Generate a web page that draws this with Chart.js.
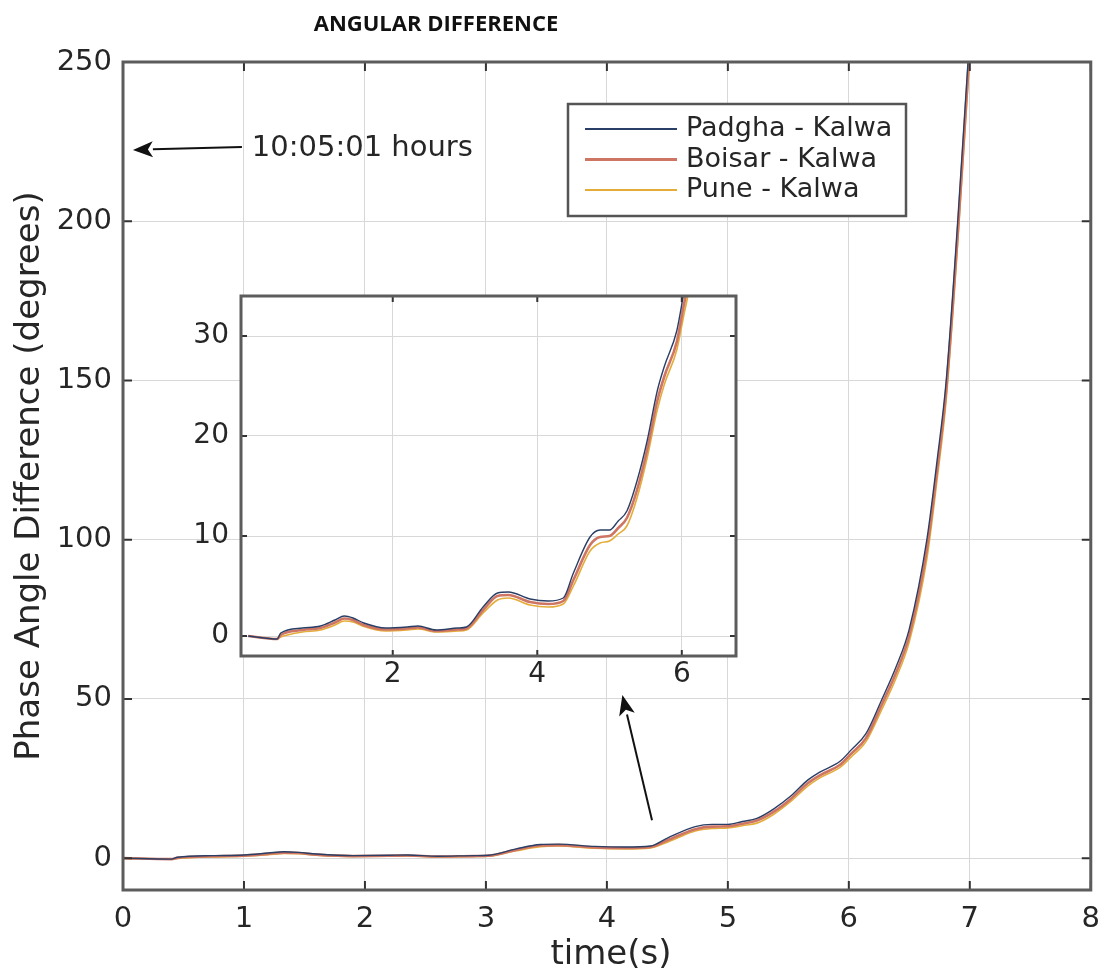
<!DOCTYPE html>
<html>
<head>
<meta charset="utf-8">
<title>Angular Difference</title>
<script src="https://cdn.jsdelivr.net/npm/chart.js@4.4.1/dist/chart.umd.min.js"></script>
<style>
  body { margin: 0; background: #fff; }
  #wrap { position: relative; width: 1112px; height: 972px; }
  #main { position: absolute; left: 0; top: 0; }
  #inset { position: absolute; left: 160px; top: 280px; }
  #title {
    position: absolute; left: 0; top: 7px; width: 872px;
    text-align: center; font: bold 22px "Open Sans", sans-serif; color: #111;
  }
</style>
</head>
<body>
<div id="wrap">
  <canvas id="main" width="1112" height="972"></canvas>
  <canvas id="inset" width="590" height="420"></canvas>
  <div id="title">ANGULAR DIFFERENCE</div>
</div>
<script>
// time axis (s) shared by the three series
const timeSec = [0, 0.40, 0.45, 0.75, 1.00, 1.20, 1.33, 1.45, 1.60, 1.90,
  2.20, 2.35, 2.60, 2.90, 3.02, 3.25, 3.45, 3.60, 3.90, 4.15,
  4.36, 4.50, 4.73, 4.87, 5.00, 5.12, 5.24, 5.38, 5.52, 5.66,
  5.76, 5.93, 6.02, 6.14, 6.27, 6.39, 6.50, 6.645, 6.73, 6.805,
  6.90, 6.985, 7.03];

// phase angle difference (degrees)
const padghaKalwa = [0, -0.3, 0.3, 0.8, 1.0, 1.6, 2.0, 1.8, 1.3, 0.8,
  0.9, 1.0, 0.6, 0.8, 0.9, 2.9, 4.3, 4.4, 3.7, 3.5,
  3.8, 6.3, 9.9, 10.6, 10.6, 11.5, 12.5, 15.5, 19.5, 24.5,
  27.0, 30.5, 34.0, 39.0, 49.6, 60.0, 72.0, 100, 125, 150,
  200, 250, 275];
const boisarKalwa = [0, -0.3, 0.1, 0.6, 0.8, 1.35, 1.75, 1.6, 1.1, 0.65,
  0.75, 0.85, 0.5, 0.65, 0.75, 2.6, 4.0, 4.1, 3.4, 3.2,
  3.5, 5.6, 9.1, 9.9, 10.0, 10.8, 11.8, 14.6, 18.6, 23.5,
  26.0, 29.4, 32.8, 37.6, 48.0, 58.2, 70.0, 97, 122, 147,
  196, 246, 271];
const puneKalwa = [0, -0.3, -0.1, 0.4, 0.6, 1.1, 1.5, 1.4, 0.95, 0.5,
  0.6, 0.7, 0.4, 0.5, 0.6, 2.3, 3.6, 3.8, 3.1, 2.9,
  3.2, 5.0, 8.5, 9.3, 9.5, 10.2, 11.0, 13.8, 17.8, 22.6,
  25.2, 28.6, 31.8, 36.5, 46.5, 56.5, 68.0, 94, 119, 144,
  193, 243, 268];

const seriesNames = ['Padgha - Kalwa', 'Boisar - Kalwa', 'Pune - Kalwa'];

const mainXTicks = [0, 1, 2, 3, 4, 5, 6, 7, 8];
const mainYTicks = [0, 50, 100, 150, 200, 250];
const insetXTicks = [2, 4, 6];
const insetYTicks = [0, 10, 20, 30];

// annotation (data units of the main axes)
const noteText = '10:05:01 hours';
const notePos = [1.065, 223];
const arrows = [
  { from: [0.983, 223.3], to: [0.082, 222.4] },
  { from: [4.373, 11.9], to: [4.128, 51.2] }
];

const colors = ['#2a3f66', '#cf7563', '#e4ad3a'];
const widths = [1.4, 2.6, 1.6];
const fontFamily = '"DejaVu Sans", DejaVuSans, "Bitstream Vera Sans", Verdana, sans-serif';

Chart.defaults.font.family = fontFamily;
Chart.defaults.color = '#262626';

function makeDatasets() {
  return [padghaKalwa, boisarKalwa, puneKalwa].map((vals, i) => ({
    label: seriesNames[i],
    data: timeSec.map((t, k) => ({ x: t, y: vals[k] })),
    borderColor: colors[i],
    borderWidth: widths[i],
    pointRadius: 0,
    cubicInterpolationMode: 'monotone',
    fill: false
  }));
}

// white background + frame with inner tick marks (matlab style)
const boxPlugin = {
  id: 'box',
  beforeDraw(chart, args, opts) {
    const { ctx, chartArea: a } = chart;
    ctx.save();
    ctx.fillStyle = '#fff';
    if (opts.fillAll) ctx.fillRect(0, 0, chart.width, chart.height);
    else ctx.fillRect(a.left, a.top, a.width, a.height);
    ctx.restore();
  },
  afterDatasetsDraw(chart, args, opts) {
    const { ctx, chartArea: a, scales } = chart;
    const tl = opts.tickLen;
    ctx.save();
    ctx.strokeStyle = '#333';
    ctx.lineWidth = 2;
    ctx.beginPath();
    scales.x.ticks.forEach(t => {
      const px = scales.x.getPixelForValue(t.value);
      ctx.moveTo(px, a.bottom); ctx.lineTo(px, a.bottom - tl);
      ctx.moveTo(px, a.top); ctx.lineTo(px, a.top + tl);
    });
    scales.y.ticks.forEach(t => {
      const py = scales.y.getPixelForValue(t.value);
      ctx.moveTo(a.left, py); ctx.lineTo(a.left + tl, py);
      ctx.moveTo(a.right, py); ctx.lineTo(a.right - tl, py);
    });
    ctx.stroke();
    ctx.strokeStyle = '#5c5c5c';
    ctx.lineWidth = 3;
    ctx.strokeRect(a.left, a.top, a.width, a.height);
    ctx.restore();
  }
};

function drawArrow(ctx, x1, y1, x2, y2) {
  const ang = Math.atan2(y2 - y1, x2 - x1);
  const hl = 20, hw = 8;
  const bx = x2 - hl * Math.cos(ang), by = y2 - hl * Math.sin(ang);
  ctx.beginPath();
  ctx.moveTo(x1, y1);
  ctx.lineTo(bx, by);
  ctx.stroke();
  ctx.beginPath();
  ctx.moveTo(x2, y2);
  ctx.lineTo(bx + hw * Math.sin(ang), by - hw * Math.cos(ang));
  ctx.lineTo(bx + 5 * Math.cos(ang), by + 5 * Math.sin(ang));
  ctx.lineTo(bx - hw * Math.sin(ang), by + hw * Math.cos(ang));
  ctx.closePath();
  ctx.fill();
}

// legend box, axis titles and the annotations
const overlayPlugin = {
  id: 'overlay',
  afterDraw(chart) {
    const { ctx, scales } = chart;
    const sx = v => scales.x.getPixelForValue(v);
    const sy = v => scales.y.getPixelForValue(v);
    ctx.save();

    // axis titles
    ctx.fillStyle = '#262626';
    ctx.font = '34px ' + fontFamily;
    ctx.textAlign = 'center';
    ctx.textBaseline = 'middle';
    ctx.fillText('time(s)', 611, 955);
    ctx.save();
    ctx.translate(30, 476);
    ctx.rotate(-Math.PI / 2);
    ctx.fillText('Phase Angle Difference (degrees)', 0, 0);
    ctx.restore();

    // legend
    const lx = 568, ly = 104, lw = 338, lh = 112;
    ctx.fillStyle = '#fff';
    ctx.fillRect(lx, ly, lw, lh);
    ctx.strokeStyle = '#555';
    ctx.lineWidth = 2.5;
    ctx.strokeRect(lx, ly, lw, lh);
    ctx.font = '27px ' + fontFamily;
    ctx.textAlign = 'left';
    seriesNames.forEach((name, i) => {
      const y = ly + 25 + i * 30.5;
      ctx.strokeStyle = colors[i];
      ctx.lineWidth = widths[i] + 0.6;
      ctx.beginPath();
      ctx.moveTo(lx + 17, y);
      ctx.lineTo(lx + 109, y);
      ctx.stroke();
      ctx.fillStyle = '#262626';
      ctx.fillText(name, lx + 118, y);
    });

    // annotation
    ctx.font = '29px ' + fontFamily;
    ctx.fillText(noteText, sx(notePos[0]), sy(notePos[1]));
    ctx.strokeStyle = '#111';
    ctx.fillStyle = '#111';
    ctx.lineWidth = 2;
    arrows.forEach(ar => drawArrow(ctx, sx(ar.from[0]), sy(ar.from[1]), sx(ar.to[0]), sy(ar.to[1])));
    ctx.restore();
  }
};

const gridStyle = { color: '#d8d8d8', lineWidth: 1, drawTicks: false };

new Chart(document.getElementById('main'), {
  type: 'line',
  data: { datasets: makeDatasets() },
  plugins: [boxPlugin, overlayPlugin],
  options: {
    responsive: false,
    animation: false,
    layout: { padding: { top: 62, right: 12, bottom: 0, left: 0 } },
    plugins: {
      legend: { display: false },
      tooltip: { enabled: false },
      box: { tickLen: 9, fillAll: true }
    },
    scales: {
      x: {
        type: 'linear', min: 0, max: 8,
        afterBuildTicks: s => { s.ticks = mainXTicks.map(v => ({ value: v })); },
        afterFit: s => { s.height = 82; },
        grid: gridStyle,
        border: { display: false },
        ticks: { font: { size: 29 }, padding: 12, maxRotation: 0 }
      },
      y: {
        min: -10, max: 250,
        afterBuildTicks: s => { s.ticks = mainYTicks.map(v => ({ value: v })); },
        afterFit: s => { s.width = 123; },
        grid: gridStyle,
        border: { display: false },
        ticks: { font: { size: 29 }, padding: 11 }
      }
    }
  }
});

new Chart(document.getElementById('inset'), {
  type: 'line',
  data: { datasets: makeDatasets() },
  plugins: [boxPlugin],
  options: {
    responsive: false,
    animation: false,
    layout: { padding: { top: 16, right: 14, bottom: 0, left: 0 } },
    plugins: {
      legend: { display: false },
      tooltip: { enabled: false },
      box: { tickLen: 6, fillAll: false }
    },
    scales: {
      x: {
        type: 'linear', min: -0.1, max: 6.75,
        afterBuildTicks: s => { s.ticks = insetXTicks.map(v => ({ value: v })); },
        afterFit: s => { s.height = 44; s.paddingLeft = 0; s.paddingRight = 0; },
        grid: gridStyle,
        border: { display: false },
        ticks: { font: { size: 28 }, padding: 2, maxRotation: 0 }
      },
      y: {
        min: -2, max: 34,
        afterBuildTicks: s => { s.ticks = insetYTicks.map(v => ({ value: v })); },
        afterFit: s => { s.width = 81; s.paddingTop = 0; s.paddingBottom = 0; },
        grid: gridStyle,
        border: { display: false },
        ticks: { font: { size: 28 }, padding: 12 }
      }
    }
  }
});
</script>
</body>
</html>
